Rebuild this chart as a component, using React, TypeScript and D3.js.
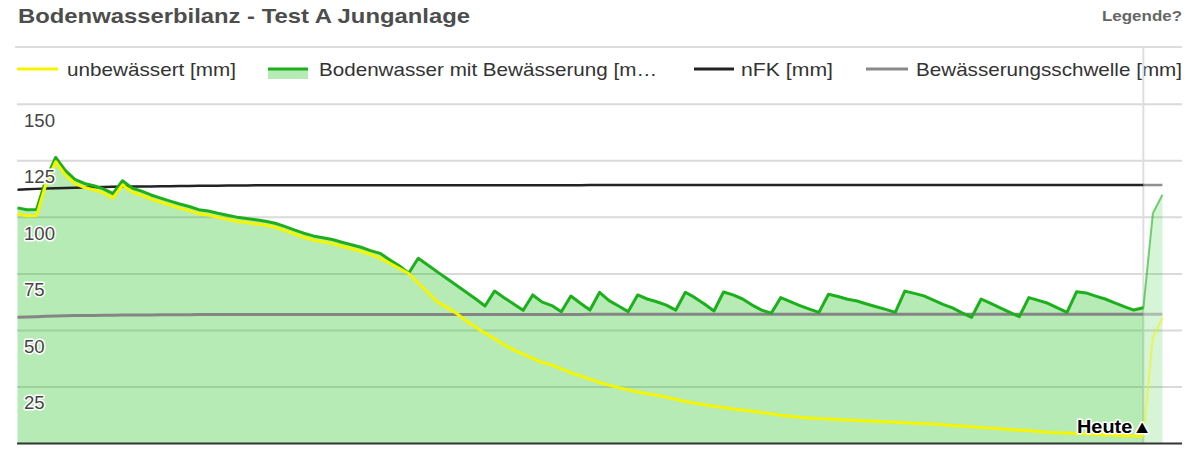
import React from "react";
import * as d3 from "d3";

// ---- data (one value per day) ----
const unbewaessert = [
  101.5, 100.7, 100.8, 115.0, 124.6, 118.8, 115.0, 113.2, 112.2, 110.8,
  108.5, 114.3, 111.2, 109.8, 108.1, 106.7, 105.4, 104.1, 103.0, 101.6,
  101.0, 100.0, 99.1, 98.3, 97.7, 97.1, 96.5, 95.6, 94.2, 92.7,
  91.2, 90.0, 89.2, 88.4, 87.2, 86.1, 85.0, 83.6, 82.0, 79.7,
  77.5, 75.2, 71.0, 66.8, 62.6, 60.2, 57.6, 54.3, 51.5, 48.8,
  46.3, 43.7, 41.4, 39.5, 37.6, 35.8, 34.7, 33.0, 31.3, 29.9,
  28.5, 27.0, 25.8, 24.7, 23.7, 22.8, 22.0, 21.3, 20.6, 19.6,
  18.6, 17.8, 17.1, 16.5, 15.9, 15.3, 14.8, 14.3, 13.7, 13.1,
  12.5, 12.0, 11.6, 11.3, 11.0, 10.8, 10.6, 10.4, 10.2, 10.0,
  9.8, 9.6, 9.4, 9.2, 9.0, 8.8, 8.6, 8.3, 8.0, 7.7,
  7.4, 7.1, 6.8, 6.5, 6.2, 5.9, 5.6, 5.3, 5.0, 4.8,
  4.6, 4.4, 4.2, 4.0, 3.8, 3.6, 3.4, 3.3, 3.2, 47.0,
  55.5,
];

const bodenwasser = [
  104.2, 103.4, 103.5, 117.0, 126.5, 120.8, 116.8, 115.0, 114.0, 112.6,
  110.5, 116.2, 113.0, 111.6, 109.9, 108.5, 107.2, 105.9, 104.8, 103.4,
  102.8, 101.8, 100.9, 100.1, 99.5, 98.9, 98.3, 97.4, 96.0, 94.5,
  93.0, 91.8, 91.0, 90.2, 89.0, 87.9, 86.8, 85.3, 84.1, 81.3,
  78.6, 75.3, 81.9, 78.9, 75.9, 73.0, 70.0, 67.0, 64.0, 60.8,
  67.4, 64.5, 61.7, 58.9, 65.7, 62.5, 61.0, 58.3, 65.2, 62.0,
  59.0, 66.8, 63.2, 60.8, 58.3, 65.7, 63.9, 62.7, 61.2, 59.0,
  66.9, 64.5, 61.7, 58.6, 67.0, 65.7, 63.9, 61.2, 59.0, 57.6,
  64.5, 62.7, 61.0, 59.4, 58.0, 66.0, 65.0, 63.8, 63.0, 61.7,
  60.5, 59.3, 58.0, 67.4, 66.4, 65.3, 63.4, 61.5, 60.0, 57.8,
  55.8, 63.9, 62.0, 60.0, 58.0, 56.1, 64.5, 63.3, 62.0, 60.0,
  58.0, 67.1, 66.6, 65.2, 63.9, 62.2, 60.5, 59.0, 60.0, 101.8,
  110.0,
];

const nFK = [
  112.2, 112.4, 112.6, 112.8, 112.9, 113.0, 113.1, 113.2, 113.3, 113.4,
  113.5, 113.6, 113.6, 113.7, 113.7, 113.8, 113.8, 113.9, 113.9, 114.0,
  114.0, 114.0, 114.1, 114.1, 114.1, 114.2, 114.2, 114.2, 114.2, 114.2,
  114.2, 114.2, 114.2, 114.2, 114.2, 114.2, 114.2, 114.2, 114.2, 114.2,
  114.2, 114.2, 114.2, 114.2, 114.2, 114.2, 114.2, 114.2, 114.2, 114.2,
  114.2, 114.2, 114.2, 114.2, 114.2, 114.2, 114.2, 114.2, 114.2, 114.2,
  114.3, 114.3, 114.3, 114.3, 114.3, 114.3, 114.3, 114.3, 114.3, 114.3,
  114.3, 114.3, 114.3, 114.3, 114.3, 114.3, 114.3, 114.3, 114.3, 114.3,
  114.3, 114.3, 114.3, 114.3, 114.3, 114.3, 114.3, 114.3, 114.3, 114.3,
  114.3, 114.3, 114.3, 114.3, 114.3, 114.3, 114.3, 114.3, 114.3, 114.3,
  114.3, 114.3, 114.3, 114.3, 114.3, 114.3, 114.3, 114.3, 114.3, 114.3,
  114.3, 114.3, 114.3, 114.3, 114.3, 114.3, 114.3, 114.3, 114.3, 114.3,
  114.3,
];

const schwelle = [
  55.8, 55.95, 56.1, 56.25, 56.4, 56.5, 56.55, 56.6, 56.65, 56.7,
  56.75, 56.8, 56.8, 56.85, 56.85, 56.9, 56.9, 56.95, 56.95, 57.0,
  57.0, 57.0, 57.05, 57.05, 57.05, 57.1, 57.1, 57.1, 57.1, 57.1,
  57.1, 57.1, 57.1, 57.1, 57.1, 57.1, 57.1, 57.1, 57.1, 57.1,
  57.1, 57.1, 57.1, 57.1, 57.1, 57.1, 57.1, 57.1, 57.1, 57.1,
  57.1, 57.1, 57.1, 57.1, 57.1, 57.1, 57.1, 57.1, 57.1, 57.1,
  57.15, 57.15, 57.15, 57.15, 57.15, 57.15, 57.15, 57.15, 57.15, 57.15,
  57.15, 57.15, 57.15, 57.15, 57.15, 57.15, 57.15, 57.15, 57.15, 57.15,
  57.15, 57.15, 57.15, 57.15, 57.15, 57.15, 57.15, 57.15, 57.15, 57.15,
  57.15, 57.15, 57.15, 57.15, 57.15, 57.15, 57.15, 57.15, 57.15, 57.15,
  57.15, 57.15, 57.15, 57.15, 57.15, 57.15, 57.15, 57.15, 57.15, 57.15,
  57.15, 57.15, 57.15, 57.15, 57.15, 57.15, 57.15, 57.15, 57.15, 57.15,
  57.15,
];

const todayIndex = 118;
const dayCountDomain = 122;
const yTicks = [25, 50, 75, 100, 125, 150];
const title = "Bodenwasserbilanz - Test A Junganlage";
const legendLabels = [
  "unbewässert [mm]",
  "Bodenwasser mit Bewässerung [m…",
  "nFK [mm]",
  "Bewässerungsschwelle [mm]",
];

const W = 1196;
const H = 449;
const FONT = "'Liberation Sans', Arial, sans-serif";

export default function App() {
  const days = d3.range(bodenwasser.length);
  const x = d3.scaleLinear().domain([0, dayCountDomain]).range([17.5, 1181.5]);
  const y = d3.scaleLinear().domain([0, 150]).range([443.5, 104.3]);

  const past = days.filter((d) => d <= todayIndex);
  const future = days.filter((d) => d >= todayIndex);

  const line = (arr: number[]) =>
    d3
      .line<number>()
      .x((d) => x(d))
      .y((d) => y(arr[d]));
  const area = d3
    .area<number>()
    .x((d) => x(d))
    .y0(y(0))
    .y1((d) => y(bodenwasser[d]));

  const halo = {
    stroke: "#fff",
    strokeWidth: 3,
    paintOrder: "stroke" as const,
    strokeLinejoin: "round" as const,
  };

  const legendItems = [
    { sx: 17, sw: 41, tx: 67, tl: 169, kind: "yellow" },
    { sx: 268, sw: 40, tx: 319, tl: 338, kind: "area" },
    { sx: 694, sw: 40, tx: 741, tl: 92, kind: "black" },
    { sx: 866, sw: 42, tx: 916, tl: 266, kind: "gray" },
  ];

  return (
    <div style={{ position: "absolute", left: 0, top: 0 }}>
      <svg width={W} height={H} style={{ display: "block", background: "#fff" }}>
        {/* title */}
        <text x={18} y={23} fontFamily={FONT} fontWeight="bold" fontSize={20.5} fill="#4d4d4d" textLength={452} lengthAdjust="spacingAndGlyphs">
          {title}
        </text>
        <text x={1182} y={21} textAnchor="end" fontFamily={FONT} fontWeight="bold" fontSize={15.5} fill="#666" textLength={80} lengthAdjust="spacingAndGlyphs">
          Legende?
        </text>
        <line x1={15} x2={1182} y1={47} y2={47} stroke="#dcdcdc" strokeWidth={2} />

        {/* legend */}
        {legendItems.map((it, i) => (
          <g key={i}>
            {it.kind === "yellow" && (
              <line x1={it.sx} x2={it.sx + it.sw} y1={69} y2={69} stroke="#f5f500" strokeWidth={3} />
            )}
            {it.kind === "area" && (
              <g>
                <rect x={it.sx} y={69} width={it.sw} height={10} fill="#b6ebb6" />
                <line x1={it.sx} x2={it.sx + it.sw} y1={69} y2={69} stroke="#1cb01c" strokeWidth={3} />
              </g>
            )}
            {it.kind === "black" && (
              <line x1={it.sx} x2={it.sx + it.sw} y1={69} y2={69} stroke="#222" strokeWidth={3} />
            )}
            {it.kind === "gray" && (
              <line x1={it.sx} x2={it.sx + it.sw} y1={69} y2={69} stroke="#8a8a8a" strokeWidth={3} />
            )}
            <text x={it.tx} y={76} fontFamily={FONT} fontSize={19} fill="#333" textLength={it.tl} lengthAdjust="spacingAndGlyphs">
              {legendLabels[i]}
            </text>
          </g>
        ))}

        {/* gridlines */}
        {yTicks.map((t) => (
          <line key={t} x1={17} x2={1182} y1={y(t)} y2={y(t)} stroke="#dadada" strokeWidth={2} />
        ))}
        {/* today line */}
        <line x1={x(todayIndex)} x2={x(todayIndex)} y1={47} y2={443} stroke="#dedede" strokeWidth={2} />

        {/* area */}
        <path d={area(past) || ""} fill="rgb(12,188,12)" fillOpacity={0.3} />
        <path d={area(future) || ""} fill="rgb(12,188,12)" fillOpacity={0.17} />

        {/* threshold & nFK */}
        <path d={line(schwelle)(past) || ""} fill="none" stroke="#858585" strokeWidth={3} />
        <path d={line(schwelle)(future) || ""} fill="none" stroke="#858585" strokeOpacity={0.5} strokeWidth={3} />
        <path d={line(nFK)(past) || ""} fill="none" stroke="#222" strokeWidth={2.5} />
        <path d={line(nFK)(future) || ""} fill="none" stroke="#222" strokeOpacity={0.5} strokeWidth={2.5} />

        {/* green line */}
        <path d={line(bodenwasser)(past) || ""} fill="none" stroke="#1cb01c" strokeWidth={3} strokeLinejoin="round" />
        <path d={line(bodenwasser)(future) || ""} fill="none" stroke="#1cb01c" strokeOpacity={0.6} strokeWidth={2} />

        {/* yellow line */}
        <path d={line(unbewaessert)(past) || ""} fill="none" stroke="#f5f500" strokeWidth={3} strokeLinejoin="round" />
        <path d={line(unbewaessert)(future) || ""} fill="none" stroke="#f5f500" strokeOpacity={0.6} strokeWidth={2} />

        {/* baseline */}
        <line x1={17} x2={1182} y1={y(0)} y2={y(0)} stroke="#333" strokeWidth={2} />

        {/* y labels */}
        {yTicks.map((t) => (
          <text key={t} x={24} y={y(t) + 22.4} fontFamily={FONT} fontSize={18.6} fill="#444" {...halo}>
            {t}
          </text>
        ))}

        {/* today marker */}
        <text x={1152} y={433} textAnchor="end" fontFamily={FONT} fontWeight="bold" fontSize={18} fill="#000" textLength={75} lengthAdjust="spacingAndGlyphs" {...halo}>
          Heute▲
        </text>
      </svg>
    </div>
  );
}
